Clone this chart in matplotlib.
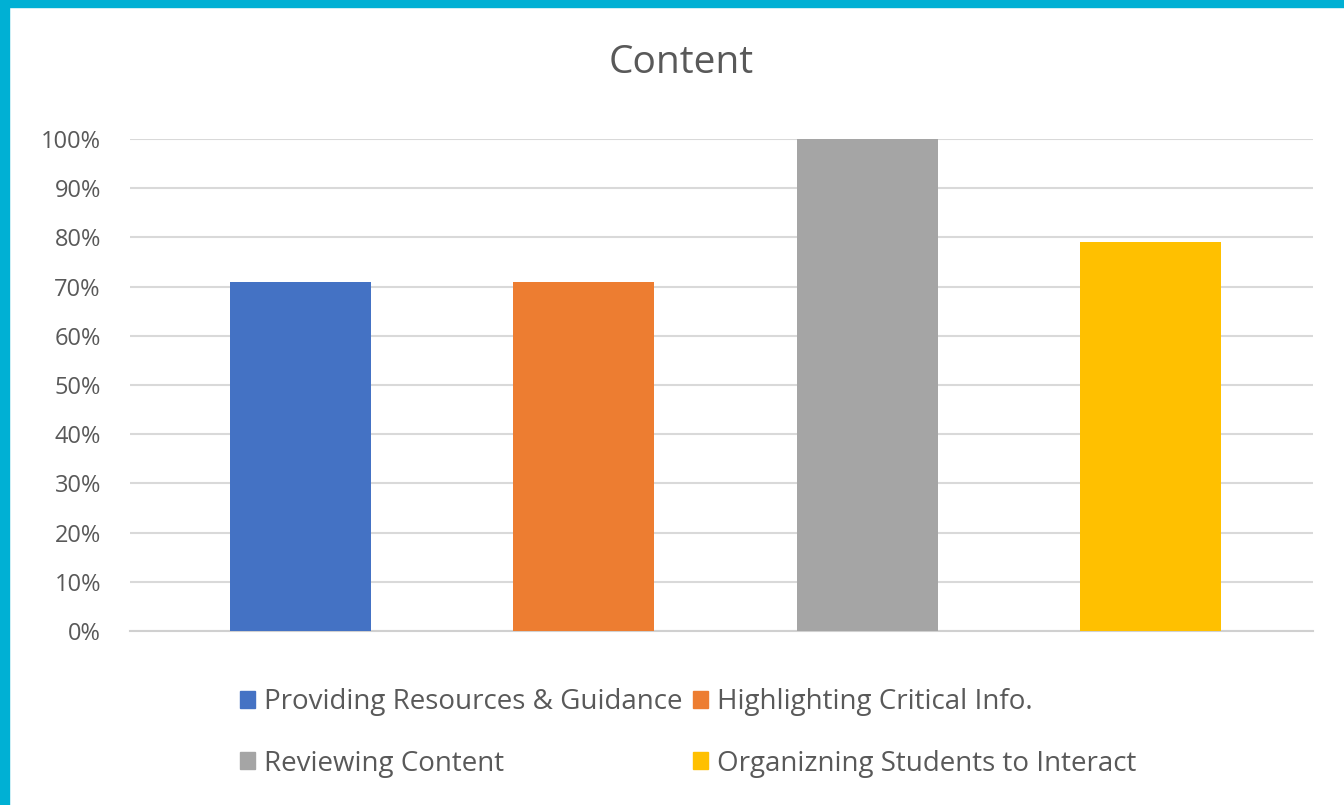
import matplotlib
matplotlib.use("Agg")
import matplotlib.pyplot as plt
from matplotlib.patches import Rectangle
from matplotlib.ticker import FuncFormatter

categories = ["Providing Resources & Guidance", "Highlighting Critical Info.",
              "Reviewing Content", "Organizning Students to Interact"]
values = [71, 71, 100, 79]
colors = ["#4472C4", "#ED7D31", "#A5A5A5", "#FFC000"]
yticks = list(range(0, 101, 10))

plt.rcParams['font.family'] = ['Open Sans', 'DejaVu Sans']

W, H = 1344, 805
fig = plt.figure(figsize=(W / 100, H / 100), dpi=100)
fig.patch.set_facecolor("white")

# cyan frame (left and top)
fig.add_artist(Rectangle((0, 0), 9 / W, 1, transform=fig.transFigure, color="#00B0D4", zorder=10))
fig.add_artist(Rectangle((0, 1 - 7 / H), 1, 7 / H, transform=fig.transFigure, color="#00B0D4", zorder=10))

left, right = 130, 1313
bottom, top = 631, 139
ax = fig.add_axes([left / W, 1 - bottom / H, (right - left) / W, (bottom - top) / H])

x = list(range(len(categories)))
ax.bar(x, values, width=0.497, color=colors, zorder=3)
ax.set_xlim(-0.6, 3.573)
ax.set_ylim(0, 100)
ax.set_yticks(yticks)
ax.yaxis.set_major_formatter(FuncFormatter(lambda v, p: f"{int(v)}%"))
ax.set_xticks([])
ax.grid(axis="y", color="#D9D9D9", linewidth=1.5, zorder=0)
for s in ["top", "right", "left"]:
    ax.spines[s].set_visible(False)
ax.spines["bottom"].set_color("#D0D0D0")
ax.spines["bottom"].set_linewidth(1.5)
ax.tick_params(axis="y", length=0, pad=21, labelsize=17, labelcolor="#595959")

fig.text(681 / W, 1 - 63 / H, "Content", ha="center", va="center", fontsize=28, color="#595959")

order = [0, 2, 1, 3]  # row-major placement in a 2-column legend
handles = [Rectangle((0, 0), 1, 1, color=colors[i]) for i in order]
labels = [categories[i] for i in order]
fig.legend(handles, labels, ncol=2, loc="center", bbox_to_anchor=(688 / W, 1 - 733 / H),
           frameon=False, fontsize=20, labelcolor="#595959", handlelength=0.55, handleheight=0.55,
           handletextpad=0.3, columnspacing=0.4, labelspacing=1.2)

fig.savefig("out.png", dpi=100)
